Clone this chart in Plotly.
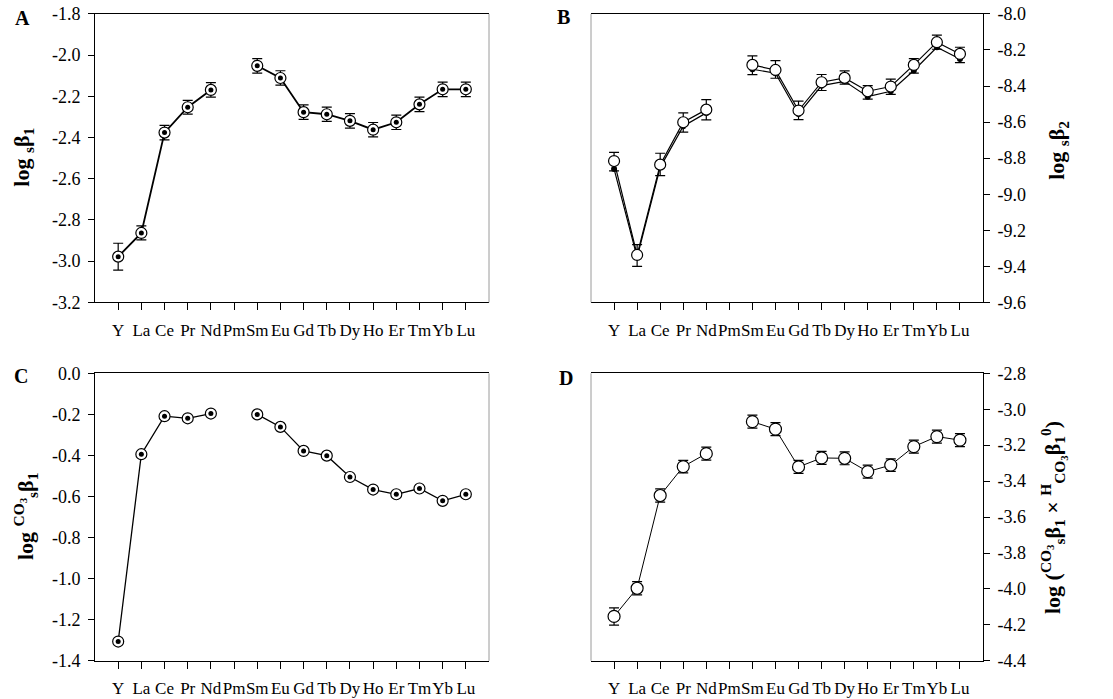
import plotly.graph_objects as go

# Lanthanide series (Pm has no data)
elements = ["Y", "La", "Ce", "Pr", "Nd", "Pm", "Sm", "Eu", "Gd", "Tb", "Dy", "Ho", "Er", "Tm", "Yb", "Lu"]

# A: log sβ1
logs_b1 = [-2.978, -2.863, -2.376, -2.253, -2.169, None, -2.052, -2.111, -2.277, -2.287,
           -2.319, -2.362, -2.326, -2.239, -2.166, -2.166]
logs_b1_err = [0.065, 0.034, 0.035, 0.033, 0.035, None, 0.035, 0.035, 0.035, 0.035,
               0.035, 0.035, 0.035, 0.035, 0.035, 0.035]

# B: log sβ2, two determinations
logs_b2_open = [-8.816, -9.337, -8.836, -8.601, -8.531, None, -8.283, -8.311, -8.536, -8.379,
                -8.355, -8.429, -8.403, -8.283, -8.157, -8.222]
logs_b2_fill = [-8.860, -9.350, -8.851, -8.623, -8.549, None, -8.307, -8.329, -8.555, -8.398,
                -8.374, -8.459, -8.429, -8.314, -8.185, -8.250]
logs_b2_err_up = [0.048, 0.057, 0.063, 0.052, 0.055, None, 0.050, 0.052, 0.052, 0.043,
                  0.039, 0.031, 0.041, 0.035, 0.039, 0.037]
logs_b2_err_dn = [0.055, 0.063, 0.061, 0.055, 0.057, None, 0.054, 0.046, 0.050, 0.046,
                  0.035, 0.044, 0.043, 0.046, 0.039, 0.048]

# C: log CO3 sβ1
logco3_b1 = [-1.306, -0.394, -0.209, -0.219, -0.196, None, -0.200, -0.261, -0.378, -0.401,
             -0.505, -0.566, -0.589, -0.561, -0.621, -0.589]

# D: log (CO3 sβ1 × H CO3 β1 0)
logprod = [-4.153, -3.996, -3.480, -3.319, -3.247, None, -3.069, -3.111, -3.321, -3.271,
           -3.273, -3.347, -3.311, -3.208, -3.152, -3.172]
logprod_err = [0.048, 0.037, 0.037, 0.035, 0.036, None, 0.036, 0.036, 0.036, 0.036,
               0.036, 0.036, 0.035, 0.036, 0.036, 0.036]

# y-axis tick values per panel
ticks_a = [-3.2, -3.0, -2.8, -2.6, -2.4, -2.2, -2.0, -1.8]
ticks_b = [-9.6, -9.4, -9.2, -9.0, -8.8, -8.6, -8.4, -8.2, -8.0]
ticks_c = [-1.4, -1.2, -1.0, -0.8, -0.6, -0.4, -0.2, 0.0]
ticks_d = [-4.4, -4.2, -4.0, -3.8, -3.6, -3.4, -3.2, -3.0, -2.8]

FONT = "Times New Roman, Liberation Serif, Times, serif"
W, H = 1113, 699

fig = go.Figure()


def err(arr, arrminus=None, width=5):
    d = dict(type="data", array=arr, visible=True, color="black", thickness=1.2, width=width)
    if arrminus is not None:
        d["symmetric"] = False
        d["arrayminus"] = arrminus
    return d


# Panel A: open circles with dot centres
fig.add_trace(go.Scatter(x=elements, y=logs_b1, xaxis="x", yaxis="y", mode="lines+markers",
                         line=dict(color="black", width=1.8),
                         marker=dict(symbol="circle", size=11, color="white",
                                     line=dict(color="black", width=1.2)),
                         error_y=err(logs_b1_err), connectgaps=False, showlegend=False))
fig.add_trace(go.Scatter(x=elements, y=logs_b1, xaxis="x", yaxis="y", mode="markers",
                         marker=dict(symbol="circle", size=5, color="black"),
                         showlegend=False))

# Panel B: filled series below, open series on top
fig.add_trace(go.Scatter(x=elements, y=logs_b2_fill, xaxis="x2", yaxis="y2", mode="lines+markers",
                         line=dict(color="black", width=1.2),
                         marker=dict(symbol="circle", size=6, color="black"),
                         connectgaps=False, showlegend=False))
fig.add_trace(go.Scatter(x=elements, y=logs_b2_open, xaxis="x2", yaxis="y2", mode="lines+markers",
                         line=dict(color="black", width=1.2),
                         marker=dict(symbol="circle", size=11, color="white",
                                     line=dict(color="black", width=1.2)),
                         error_y=err(logs_b2_err_up, logs_b2_err_dn),
                         connectgaps=False, showlegend=False))

# Panel C
fig.add_trace(go.Scatter(x=elements, y=logco3_b1, xaxis="x3", yaxis="y3", mode="lines+markers",
                         line=dict(color="black", width=1.3),
                         marker=dict(symbol="circle", size=11, color="white",
                                     line=dict(color="black", width=1.2)),
                         connectgaps=False, showlegend=False))
fig.add_trace(go.Scatter(x=elements, y=logco3_b1, xaxis="x3", yaxis="y3", mode="markers",
                         marker=dict(symbol="circle", size=5, color="black"),
                         showlegend=False))

# Panel D
fig.add_trace(go.Scatter(x=elements, y=logprod, xaxis="x4", yaxis="y4", mode="lines+markers",
                         line=dict(color="black", width=1),
                         marker=dict(symbol="circle", size=12, color="white",
                                     line=dict(color="black", width=1.2)),
                         error_y=err(logprod_err), connectgaps=False, showlegend=False))

# Plot-area boxes in pixels: (left, right, top, bottom)
boxes = {
    "A": (95, 489, 4, 301),
    "B": (591, 983, 4, 301),
    "C": (95, 489, 374, 670),
    "D": (591, 983, 374, 670),
}


def xdom(b):
    return [b[0] / W, b[1] / W]


def ydom(b):
    return [(H - b[3]) / H, (H - b[2]) / H]


xtickfont = dict(family=FONT, size=17, color="black")
ytickfont = dict(family=FONT, size=18, color="black")

xcommon = dict(type="category", categoryorder="array", categoryarray=elements,
               range=[-1, len(elements)], tickvals=elements, ticktext=elements,
               tickangle=0, ticks="outside", ticklen=7, tickwidth=1, tickcolor="black",
               ticklabelstandoff=5, showline=True, linecolor="black", linewidth=1,
               mirror=True, showgrid=False, zeroline=False, tickfont=xtickfont,
               fixedrange=True)


def yaxis(ticks, side, anchor, dom):
    return dict(range=[ticks[0], ticks[-1]], tickvals=ticks,
                ticktext=[f"{t:.1f}" for t in ticks], side=side, anchor=anchor,
                domain=dom, ticks="outside", ticklen=6, tickwidth=1, tickcolor="black",
                ticklabelstandoff=4, showline=True, linecolor="black", linewidth=1,
                mirror=False, showgrid=False, zeroline=False, tickfont=ytickfont,
                fixedrange=True)


layout = dict(
    width=W, height=H, margin=dict(l=0, r=0, t=0, b=0),
    paper_bgcolor="white", plot_bgcolor="white", showlegend=False,
    font=dict(family=FONT, color="black"),
    xaxis=dict(xcommon, domain=xdom(boxes["A"]), anchor="y"),
    xaxis2=dict(xcommon, domain=xdom(boxes["B"]), anchor="y2"),
    xaxis3=dict(xcommon, domain=xdom(boxes["C"]), anchor="y3"),
    xaxis4=dict(xcommon, domain=xdom(boxes["D"]), anchor="y4"),
    yaxis=yaxis(ticks_a, "left", "x", ydom(boxes["A"])),
    yaxis2=yaxis(ticks_b, "right", "x2", ydom(boxes["B"])),
    yaxis3=yaxis(ticks_c, "left", "x3", ydom(boxes["C"])),
    yaxis4=yaxis(ticks_d, "right", "x4", ydom(boxes["D"])),
)
fig.update_layout(**layout)

# Faint grey border on the side opposite each y axis
shapes = []
for xr, side in (("x", 1), ("x2", 0), ("x3", 1), ("x4", 0)):
    yr = xr.replace("x", "y")
    shapes.append(dict(type="line", xref=f"{xr} domain", yref=f"{yr} domain",
                       x0=side, x1=side, y0=0, y1=1,
                       line=dict(color="#9a9a9a", width=1)))
fig.update_layout(shapes=shapes)

titlefont = dict(family=FONT, size=22, color="black")
titles = [
    ("<b>log <sub>s</sub>β<sub>1</sub></b>", 23, 152),
    ("<b>log <sub>s</sub>β<sub>2</sub></b>", 1058, 145),
    ("<b>log <sup>CO<sub>3</sub></sup><sub>s</sub>β<sub>1</sub></b>", 25, 522),
    ("<b>log (<sup>CO<sub>3</sub></sup><sub>s</sub>β<sub>1</sub> × "
     "<sup>H</sup><sub>CO<sub>3</sub></sub>β<sub>1</sub><sup>0</sup>)</b>", 1053, 523),
]
annotations = []
for text, px, py in titles:
    annotations.append(dict(text=text, xref="paper", yref="paper", x=px / W, y=(H - py) / H,
                            xanchor="center", yanchor="middle", textangle=-90,
                            showarrow=False, font=titlefont))

letters = [("A", 22, 8), ("B", 563, 7), ("C", 21, 377), ("D", 566, 379)]
for text, px, py in letters:
    annotations.append(dict(text=f"<b>{text}</b>", xref="paper", yref="paper",
                            x=px / W, y=(H - py) / H, xanchor="center", yanchor="middle",
                            showarrow=False, font=dict(family=FONT, size=20, color="black")))
fig.update_layout(annotations=annotations)

fig.write_html("out.html")
